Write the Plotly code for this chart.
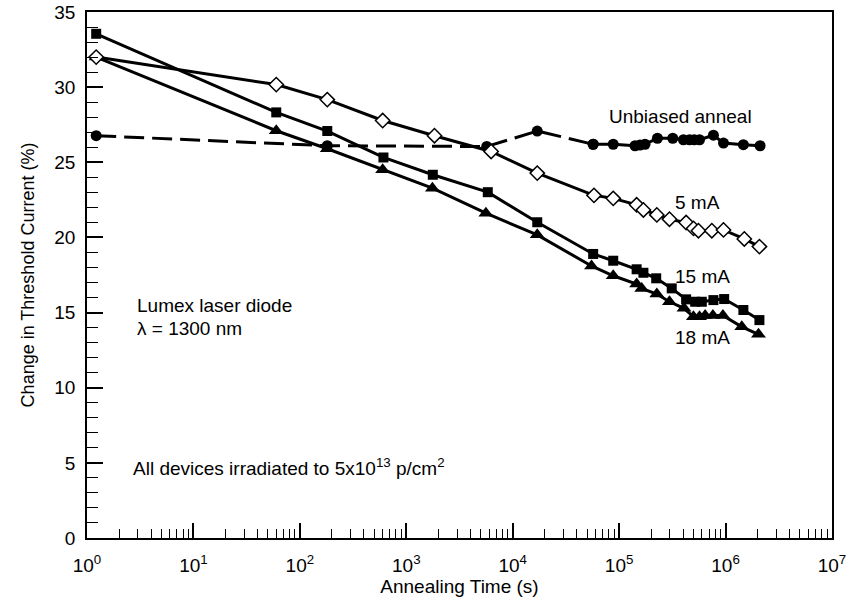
import numpy as np
import plotly.graph_objects as go

# ---- data ----
t_5mA = [1.22, 60, 181, 600, 1840, 6270, 17000, 58000, 88000, 146000, 169000, 226000,
         297000, 426000, 500000, 556000, 743000, 956000, 1.5e6, 2.08e6]
y_5mA = [32.0, 30.17, 29.17, 27.78, 26.77, 25.72, 24.28, 22.8, 22.6, 22.17, 21.83, 21.5,
         21.21, 20.99, 20.6, 20.45, 20.45, 20.5, 19.9, 19.39]

t_15mA = [1.22, 60, 181, 610, 1775, 5830, 17000, 57000, 88000, 146000, 169000, 223000,
          312000, 426000, 518000, 598000, 769000, 970000, 1.47e6, 2.08e6]
y_15mA = [33.55, 28.32, 27.08, 25.32, 24.17, 23.01, 21.01, 18.9, 18.45, 17.88, 17.65, 17.28,
          16.61, 15.88, 15.72, 15.72, 15.83, 15.9, 15.17, 14.5]

t_18mA = [1.22, 60, 181, 600, 1760, 5600, 17000, 55000, 88000, 146000, 163000, 226000,
          297000, 407000, 499000, 569000, 643000, 760000, 944000, 1.42e6, 2.04e6]
y_18mA = [32.0, 27.1, 25.9, 24.5, 23.28, 21.61, 20.17, 18.1, 17.45, 16.9, 16.61, 16.23,
          15.72, 15.28, 14.72, 14.72, 14.8, 14.8, 14.8, 14.05, 13.55]

t_unb = [1.22, 181, 5700, 17000, 57000, 88000, 141000, 157000, 175000, 229000, 319000,
         402000, 458000, 507000, 569000, 769000, 956000, 1.47e6, 2.11e6]
y_unb = [26.77, 26.1, 26.05, 27.08, 26.2, 26.2, 26.1, 26.15, 26.2, 26.6, 26.6,
         26.5, 26.5, 26.5, 26.5, 26.8, 26.28, 26.17, 26.1]
n_dashed = 5  # first points joined by a dashed line

x_tick_vals = [10 ** k for k in range(8)]
x_tick_text = ["10<sup>%d</sup>" % k for k in range(8)]
x_minor_vals = [m * 10 ** k for k in range(7) for m in range(2, 10)]

FONT = "Liberation Sans, Arial, sans-serif"
BLACK = "#000000"

fig = go.Figure()

# unbiased anneal: dashed then solid
fig.add_trace(go.Scatter(x=t_unb[:n_dashed], y=y_unb[:n_dashed], mode="lines+markers",
                         line=dict(color=BLACK, width=3, dash="20px,8px"),
                         marker=dict(symbol="circle", size=11, color=BLACK),
                         showlegend=False))
fig.add_trace(go.Scatter(x=t_unb[n_dashed - 1:], y=y_unb[n_dashed - 1:], mode="lines+markers",
                         line=dict(color=BLACK, width=3),
                         marker=dict(symbol="circle", size=11, color=BLACK),
                         showlegend=False))
# 18 mA
fig.add_trace(go.Scatter(x=t_18mA, y=y_18mA, mode="lines+markers",
                         line=dict(color=BLACK, width=3),
                         marker=dict(symbol="triangle-up", size=13, color=BLACK),
                         showlegend=False))
# 15 mA
fig.add_trace(go.Scatter(x=t_15mA, y=y_15mA, mode="lines+markers",
                         line=dict(color=BLACK, width=3),
                         marker=dict(symbol="square", size=10, color=BLACK),
                         showlegend=False))
# 5 mA
fig.add_trace(go.Scatter(x=t_5mA, y=y_5mA, mode="lines+markers",
                         line=dict(color=BLACK, width=3),
                         marker=dict(symbol="diamond", size=11, color="white",
                                     line=dict(color=BLACK, width=1.5)),
                         showlegend=False))

ann_font = dict(family=FONT, size=19, color=BLACK)
annotations = [
    dict(x=4.887, y=28.03, text="Unbiased anneal"),
    dict(x=5.508, y=22.33, text="5 mA"),
    dict(x=5.508, y=17.43, text="15 mA"),
    dict(x=5.508, y=13.37, text="18 mA"),
    dict(x=0.451, y=15.5, text="Lumex laser diode"),
    dict(x=0.451, y=13.97, text="\u03bb = 1300 nm"),
    dict(x=0.414, y=4.7, text="All devices irradiated to 5x10<sup>13</sup> p/cm<sup>2</sup>"),
]
for a in annotations:
    fig.add_annotation(xref="x", yref="y", xanchor="left", yanchor="middle",
                       showarrow=False, font=ann_font, **a)

fig.update_xaxes(type="log", range=[0, 7],
                 tickmode="array", tickvals=x_tick_vals, ticktext=x_tick_text,
                 ticks="inside", ticklen=15, tickwidth=1.5, tickcolor=BLACK,
                 minor=dict(tickmode="array", tickvals=x_minor_vals, ticks="inside",
                            ticklen=9, tickwidth=1, tickcolor=BLACK, showgrid=False),
                 showline=True, linecolor=BLACK, linewidth=1.5, mirror=True,
                 showgrid=False, zeroline=False,
                 tickfont=dict(family=FONT, size=19, color=BLACK),
                 ticklabelstandoff=9,
                 title=dict(text="Annealing Time (s)", font=dict(family=FONT, size=19, color=BLACK),
                            standoff=4))
fig.update_yaxes(range=[0, 35], tickmode="linear", tick0=0, dtick=5,
                 ticks="inside", ticklen=16, tickwidth=1.5, tickcolor=BLACK,
                 minor=dict(dtick=1, ticks="inside", ticklen=11, tickwidth=1,
                            tickcolor=BLACK, showgrid=False),
                 showline=True, linecolor=BLACK, linewidth=1.5, mirror=True,
                 showgrid=False, zeroline=False,
                 tickfont=dict(family=FONT, size=19, color=BLACK),
                 ticklabelstandoff=6,
                 title=dict(text="Change in Threshold Current (%)",
                            font=dict(family=FONT, size=18, color=BLACK), standoff=15))

fig.update_layout(width=849, height=600, autosize=False,
                  margin=dict(l=87, r=17, t=12, b=62, autoexpand=False),
                  paper_bgcolor="white", plot_bgcolor="white",
                  font=dict(family=FONT, color=BLACK))

fig.write_html("out.html")
